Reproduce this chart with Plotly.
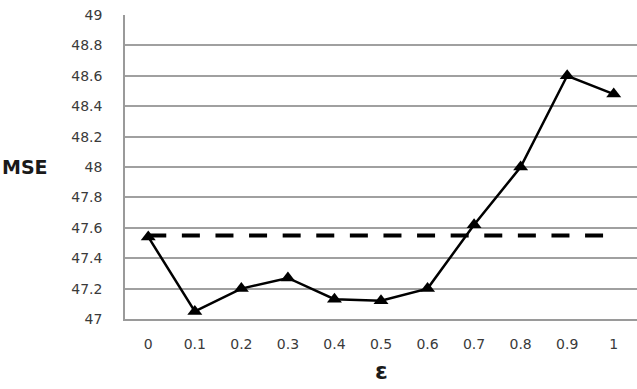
import plotly.graph_objects as go

eps = [0, 0.1, 0.2, 0.3, 0.4, 0.5, 0.6, 0.7, 0.8, 0.9, 1]
mse = [47.54, 47.05, 47.2, 47.27, 47.13, 47.12, 47.2, 47.62, 48.0, 48.6, 48.48]
baseline_x = [0, 1]
baseline_y = [47.55, 47.55]
x_tick_labels = ["0", "0.1", "0.2", "0.3", "0.4", "0.5", "0.6", "0.7", "0.8", "0.9", "1"]
y_ticks = [47, 47.2, 47.4, 47.6, 47.8, 48, 48.2, 48.4, 48.6, 48.8, 49]
y_tick_labels = ["47", "47.2", "47.4", "47.6", "47.8", "48", "48.2", "48.4", "48.6", "48.8", "49"]

fig = go.Figure()
fig.add_trace(go.Scatter(
    x=baseline_x, y=baseline_y, mode="lines",
    line=dict(color="black", width=4, dash="18px,15.6px"),
    hoverinfo="skip", showlegend=False))
fig.add_trace(go.Scatter(
    x=eps, y=mse, mode="lines+markers",
    line=dict(color="black", width=2.5),
    marker=dict(symbol="triangle-up", size=13, color="black"),
    showlegend=False))

fig.update_layout(
    width=637, height=389,
    margin=dict(l=125, r=0, t=15, b=70),
    plot_bgcolor="white", paper_bgcolor="white",
    font=dict(family="DejaVu Sans", size=14, color="#3a3a3a"),
    xaxis=dict(range=[-0.05, 1.05], tickvals=eps, ticktext=x_tick_labels,
               showgrid=False, zeroline=False, showline=True,
               linecolor="#9a9a9a", linewidth=1.5, ticks="",
               ticklabelstandoff=11),
    yaxis=dict(range=[47, 49], tickvals=y_ticks, ticktext=y_tick_labels,
               showgrid=True, gridcolor="#a0a0a0", gridwidth=1.5,
               zeroline=False, showline=True, linecolor="#9a9a9a",
               linewidth=1.5, ticks="", ticklabelstandoff=18),
)
fig.add_annotation(text="<b>MSE</b>", xref="paper", yref="paper",
                   x=-0.245, y=0.5, xanchor="left", yanchor="middle",
                   showarrow=False, font=dict(size=19, color="#1a1a1a"))
fig.add_annotation(text="<b>ε</b>", xref="paper", yref="paper",
                   x=0.5, y=-0.17, xanchor="center", yanchor="middle",
                   showarrow=False, font=dict(size=23, color="#1a1a1a"))

fig.write_html("out.html")
